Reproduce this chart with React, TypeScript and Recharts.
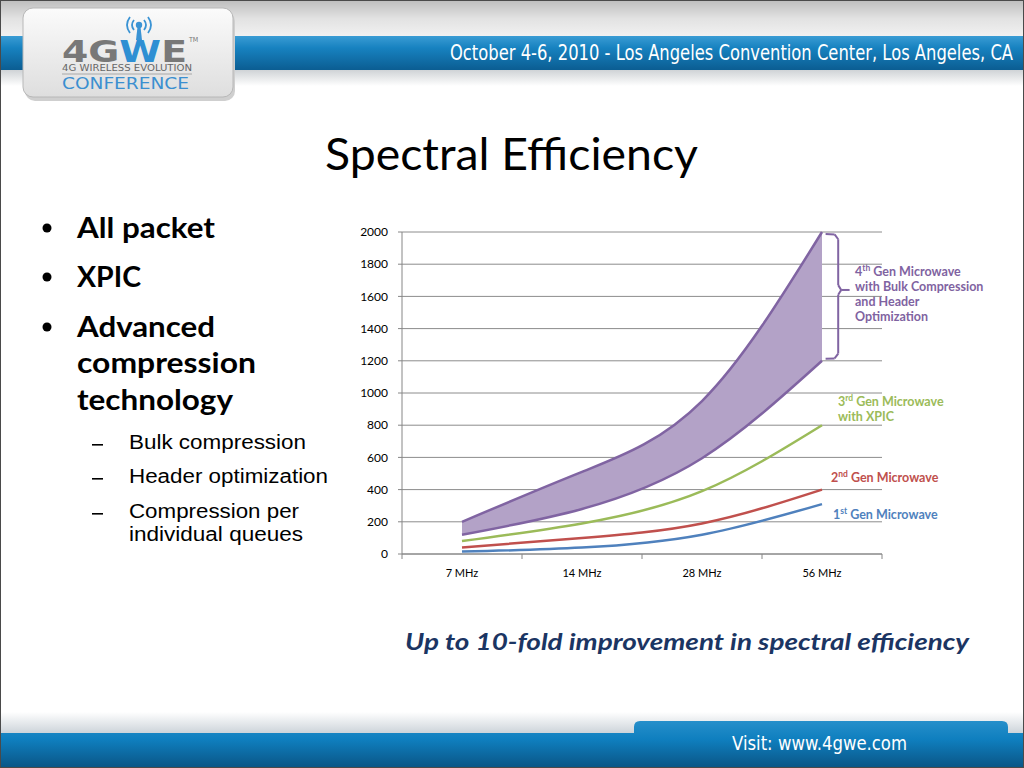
import React from 'react';
import { ComposedChart, Line, Area, XAxis, YAxis, CartesianGrid, ReferenceLine } from 'recharts';

// channel bandwidths on the x axis
const categories = ['7 MHz', '14 MHz', '28 MHz', '56 MHz'];

// spectral efficiency per generation
const gen1 = [15, 40, 120, 310];
const gen2 = [40, 100, 190, 400];
const gen3 = [80, 190, 390, 800];
const gen4Low = [120, 280, 595, 1200];
const gen4High = [200, 510, 950, 2000];

const yTicks = [0, 200, 400, 600, 800, 1000, 1200, 1400, 1600, 1800, 2000];
// band edges get tick marks, band centres get the labels
const xTicks = [0, 0.5, 1, 1.5, 2, 2.5, 3, 3.5, 4];

const data = categories.map((name, i) => ({
  pos: i + 0.5,
  name,
  gen1: gen1[i],
  gen2: gen2[i],
  gen3: gen3[i],
  gen4Low: gen4Low[i],
  gen4High: gen4High[i],
  gen4: [gen4Low[i], gen4High[i]],
}));

// brace next to the 4th gen band, in chart units
const brace = [
  [{ x: 3.53, y: 1988 }, { x: 3.605, y: 1985 }],
  [{ x: 3.605, y: 1985 }, { x: 3.635, y: 1955 }],
  [{ x: 3.635, y: 1955 }, { x: 3.635, y: 1670 }],
  [{ x: 3.635, y: 1670 }, { x: 3.66, y: 1640 }],
  [{ x: 3.66, y: 1640 }, { x: 3.73, y: 1640 }],
  [{ x: 3.66, y: 1640 }, { x: 3.635, y: 1610 }],
  [{ x: 3.635, y: 1610 }, { x: 3.635, y: 1245 }],
  [{ x: 3.635, y: 1245 }, { x: 3.605, y: 1215 }],
  [{ x: 3.605, y: 1215 }, { x: 3.53, y: 1212 }],
];

const PURPLE = '#8064a2';
const CAL = 'Lato, "Open Sans", sans-serif';
const COND = '"Liberation Sans Narrow", "DejaVu Sans Condensed", "Liberation Sans", sans-serif';

const XTick = (props: any) => {
  const { x, y, payload } = props;
  const v = payload.value;
  if (Number.isInteger(v)) {
    return <line x1={x} x2={x} y1={y} y2={y + 5} stroke="#868686" />;
  }
  return (
    <text x={x} y={y + 23} textAnchor="middle" fontSize={11} fontFamily={CAL} fill="#000">
      {categories[Math.floor(v)]}
    </text>
  );
};

const Sup = ({ base, sup, rest }: { base: string; sup: string; rest: string }) => (
  <>
    {base}
    <tspan dy={-5} fontSize={8.5}>{sup}</tspan>
    <tspan dy={5}>{rest}</tspan>
  </>
);

const Slide = () => (
  <svg width={1024} height={768} style={{ position: 'absolute', left: 0, top: 0 }}>
    <defs>
      <linearGradient id="topGrey" x1="0" y1="0" x2="0" y2="1">
        <stop offset="0" stopColor="#bdbdbd" />
        <stop offset="0.5" stopColor="#e2e2e2" />
        <stop offset="1" stopColor="#f2f2f2" />
      </linearGradient>
      <linearGradient id="blueBand" x1="0" y1="0" x2="0" y2="1">
        <stop offset="0" stopColor="#3a9cd4" />
        <stop offset="0.35" stopColor="#1782c0" />
        <stop offset="1" stopColor="#0b5d92" />
      </linearGradient>
      <linearGradient id="shadowDown" x1="0" y1="0" x2="0" y2="1">
        <stop offset="0" stopColor="#cfd3d6" />
        <stop offset="1" stopColor="#ffffff" />
      </linearGradient>
      <linearGradient id="shadowUp" x1="0" y1="0" x2="0" y2="1">
        <stop offset="0" stopColor="#ffffff" />
        <stop offset="1" stopColor="#cdd4da" />
      </linearGradient>
      <linearGradient id="footBlue" gradientUnits="userSpaceOnUse" x1="0" y1="720" x2="0" y2="768">
        <stop offset="0" stopColor="#2790cb" />
        <stop offset="0.4" stopColor="#0f7fbf" />
        <stop offset="1" stopColor="#0a5585" />
      </linearGradient>
      <linearGradient id="logoBox" x1="0" y1="0" x2="0" y2="1">
        <stop offset="0" stopColor="#fbfbfb" />
        <stop offset="1" stopColor="#dedede" />
      </linearGradient>
    </defs>
    <rect x={0} y={0} width={1024} height={768} fill="#fff" />

    {/* header */}
    <rect x={0} y={0} width={1024} height={37} fill="url(#topGrey)" />
    <rect x={0} y={36} width={1024} height={34} fill="url(#blueBand)" />
    <rect x={0} y={70} width={1024} height={16} fill="url(#shadowDown)" />
    <g transform="translate(450 60) scale(1 1.18)">
      <text x={0} y={0} fontSize={18} fontFamily={COND} fill="#fff" textLength={563} lengthAdjust="spacingAndGlyphs">
        October 4-6, 2010 - Los Angeles Convention Center, Los Angeles, CA
      </text>
    </g>

    {/* logo */}
    <rect x={25} y={11} width={210} height={90} rx={10} fill="#cfcfcf" />
    <rect x={23} y={8} width={210} height={89} rx={10} fill="url(#logoBox)" stroke="#b8b8b8" />
    <g fill="none" stroke="#3a93d4" strokeWidth={1.8}>
      <path d="M134 20 Q130 25 134 30" />
      <path d="M130 17 Q124 25 130 33" />
      <path d="M144 20 Q148 25 144 30" />
      <path d="M148 17 Q154 25 148 33" />
    </g>
    <circle cx={139} cy={25} r={3.2} fill="#3a93d4" />
    <path d="M137.5 27 L140.5 27 L142 40 L136 40 Z" fill="#3a93d4" />
    <g transform="translate(62 62) scale(1 1.5)">
      <text x={0} y={0} fontSize={20} fontWeight={900} fontFamily='"DejaVu Sans", sans-serif' fill="#787878" textLength={125} lengthAdjust="spacingAndGlyphs">
        4G<tspan fill="#2e8fd3">W</tspan>E
      </text>
    </g>
    <text x={189} y={42} fontSize={7} fontFamily={COND} fill="#777">TM</text>
    <text x={62} y={71} fontSize={8.5} fontFamily={COND} fill="#666" textLength={130} lengthAdjust="spacingAndGlyphs">
      4G WIRELESS EVOLUTION
    </text>
    <line x1={62} x2={192} y1={74} y2={74} stroke="#a8a8a8" />
    <text x={62} y={88.5} fontSize={15} fontFamily={COND} fill="#3b8fd0" textLength={127} lengthAdjust="spacingAndGlyphs">
      CONFERENCE
    </text>

    {/* title */}
    <text x={325} y={170} fontSize={44} fontFamily={CAL} fill="#000" textLength={373} lengthAdjust="spacingAndGlyphs">
      Spectral Efficiency
    </text>

    {/* bullets */}
    <g fontFamily={CAL} fontWeight={700} fontSize={29} fill="#000">
      <circle cx={47} cy={228} r={4.5} />
      <circle cx={47} cy={277} r={4.5} />
      <circle cx={47} cy={327} r={4.5} />
      <text x={77} y={238} textLength={138} lengthAdjust="spacingAndGlyphs">All packet</text>
      <text x={77} y={287} textLength={64} lengthAdjust="spacingAndGlyphs">XPIC</text>
      <text x={77} y={337} textLength={138} lengthAdjust="spacingAndGlyphs">Advanced</text>
      <text x={77} y={373} textLength={179} lengthAdjust="spacingAndGlyphs">compression</text>
      <text x={77} y={410} textLength={156} lengthAdjust="spacingAndGlyphs">technology</text>
    </g>
    <g fontFamily='"Liberation Sans", Arial, sans-serif' fontSize={20} fill="#000">
      <rect x={92} y={444} width={11} height={1.6} />
      <rect x={92} y={478} width={11} height={1.6} />
      <rect x={92} y={513} width={11} height={1.6} />
      <text x={129} y={449} textLength={177} lengthAdjust="spacingAndGlyphs">Bulk compression</text>
      <text x={129} y={483} textLength={199} lengthAdjust="spacingAndGlyphs">Header optimization</text>
      <text x={129} y={518} textLength={170} lengthAdjust="spacingAndGlyphs">Compression per</text>
      <text x={129} y={541} textLength={174} lengthAdjust="spacingAndGlyphs">individual queues</text>
    </g>

    {/* series labels */}
    <g fontFamily={CAL} fontWeight={700} fontSize={12.5}>
      <text x={855} y={276} fill="#7f63a1"><Sup base="4" sup="th" rest=" Gen Microwave" /></text>
      <text x={855} y={291} fill="#7f63a1">with Bulk Compression</text>
      <text x={855} y={306} fill="#7f63a1">and Header</text>
      <text x={855} y={321} fill="#7f63a1">Optimization</text>
      <text x={838} y={406} fill="#9bbb59"><Sup base="3" sup="rd" rest=" Gen Microwave" /></text>
      <text x={838} y={421} fill="#9bbb59">with XPIC</text>
      <text x={831} y={482} fill="#c0504d"><Sup base="2" sup="nd" rest=" Gen Microwave" /></text>
      <text x={833} y={519} fill="#4f81bd"><Sup base="1" sup="st" rest=" Gen Microwave" /></text>
    </g>

    {/* caption */}
    <text x={405} y={650} fontSize={22} fontFamily={CAL} fontWeight={700} fontStyle="italic" fill="#1b3563" textLength={564} lengthAdjust="spacingAndGlyphs">
      Up to 10-fold improvement in spectral efficiency
    </text>

    {/* footer */}
    <rect x={0} y={712} width={1024} height={21} fill="url(#shadowUp)" />
    <path d="M0 733 L634 733 L634 727 Q634 721 640 721 L1002 721 Q1008 721 1008 727 L1008 733 L1024 733 L1024 768 L0 768 Z" fill="url(#footBlue)" />
    <text x={732} y={750} fontSize={19} fontFamily={COND} fill="#fff" textLength={175} lengthAdjust="spacingAndGlyphs">
      Visit: www.4gwe.com
    </text>

    <rect x={0.5} y={0.5} width={1023} height={767} fill="none" stroke="#4a4a4a" />
  </svg>
);

export default function App() {
  return (
    <div style={{ position: 'absolute', left: 0, top: 0, width: 1024, height: 768, overflow: 'hidden' }}>
      <Slide />
      <div style={{ position: 'absolute', left: 340, top: 220 }}>
        <ComposedChart width={560} height={375} data={data} margin={{ top: 12, right: 18, bottom: 11, left: 0 }}>
          <CartesianGrid vertical={false} stroke="#8c8c8c" strokeWidth={1} />
          <XAxis
            dataKey="pos"
            type="number"
            domain={[0, 4]}
            ticks={xTicks}
            interval={0}
            tick={<XTick />}
            tickLine={false}
            tickSize={0}
            tickMargin={0}
            height={30}
            axisLine={{ stroke: '#868686' }}
          />
          <YAxis
            domain={[0, 2000]}
            ticks={yTicks}
            interval={0}
            width={62}
            tickSize={4}
            tickMargin={10}
            tick={{ fontSize: 12, fill: '#000', fontFamily: CAL }}
            tickLine={{ stroke: '#868686' }}
            axisLine={{ stroke: '#868686' }}
          />
          <Area dataKey="gen4" type="natural" fill="#b3a2c7" fillOpacity={1} stroke="none" isAnimationActive={false} />
          <Line dataKey="gen4High" type="natural" stroke={PURPLE} strokeWidth={2.5} dot={false} isAnimationActive={false} />
          <Line dataKey="gen4Low" type="natural" stroke={PURPLE} strokeWidth={2.5} dot={false} isAnimationActive={false} />
          <Line dataKey="gen3" type="natural" stroke="#9bbb59" strokeWidth={2.5} dot={false} isAnimationActive={false} />
          <Line dataKey="gen2" type="natural" stroke="#c0504d" strokeWidth={2.5} dot={false} isAnimationActive={false} />
          <Line dataKey="gen1" type="natural" stroke="#4f81bd" strokeWidth={2.5} dot={false} isAnimationActive={false} />
          {brace.map((seg, i) => (
            <ReferenceLine key={i} segment={seg} stroke={PURPLE} strokeWidth={2} ifOverflow="visible" />
          ))}
        </ComposedChart>
      </div>
    </div>
  );
}
